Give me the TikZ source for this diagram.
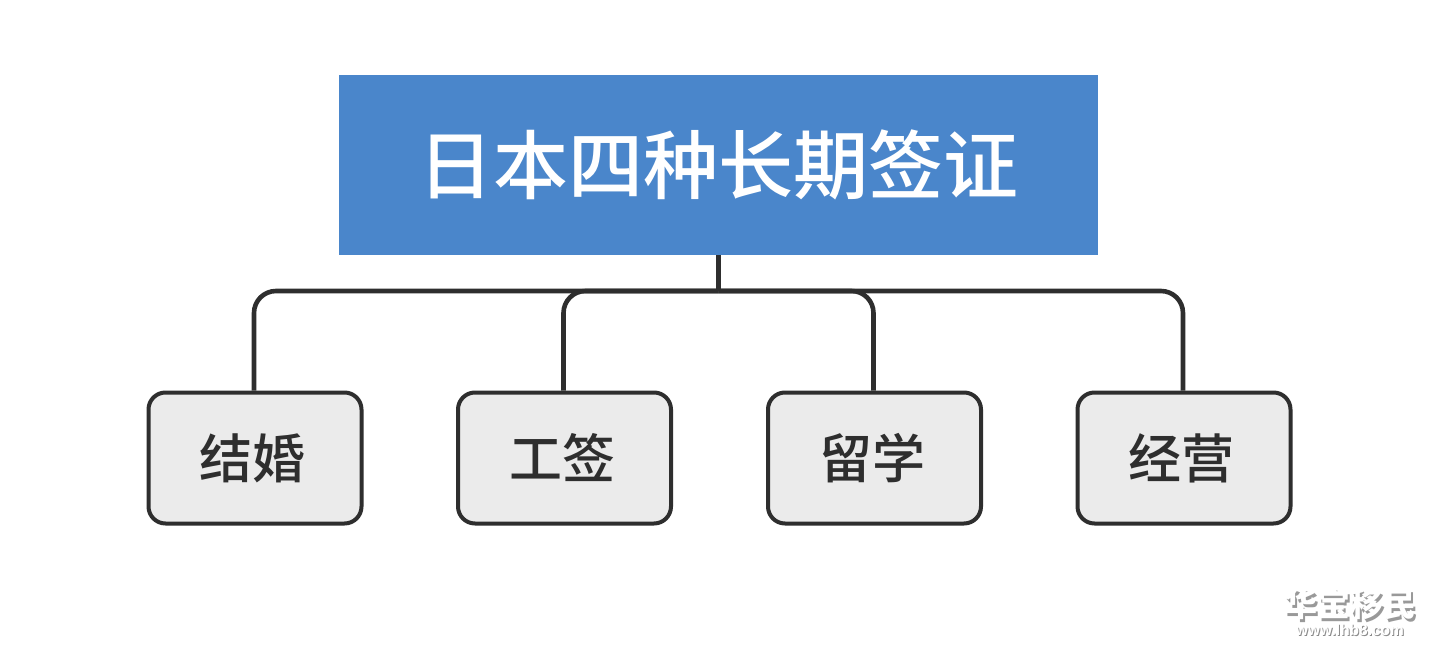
\documentclass[tikz,border=0pt]{standalone}
\usepackage{fontspec}
\newfontfamily\cjk{Noto Sans CJK SC Medium}
\newfontfamily\cjkb{Noto Sans CJK SC Black}
\setmainfont{Liberation Sans}
\definecolor{titleblue}{HTML}{4A86CB}
\definecolor{boxgray}{HTML}{EBEBEB}
\definecolor{inkdark}{HTML}{2E2E2E}
\newcommand{\leaftext}[1]{\hspace*{-5pt}#1}
\tikzset{
  x=1pt,y=-1pt,
  titlebox/.style={fill=titleblue,draw=none,minimum width=759pt,minimum height=180pt,inner sep=0pt,text=white,font=\cjk\fontsize{75}{75}\selectfont},
  leafbox/.style={fill=boxgray,draw=inkdark,line width=4pt,rounded corners=17pt,minimum width=213pt,minimum height=131pt,inner sep=0pt,text=inkdark,font=\cjk\fontsize{53}{53}\selectfont},
  link/.style={draw=inkdark,line width=4.6pt,rounded corners=22pt},
  wmark/.style={inner sep=0pt,text=white,font=\cjkb\fontsize{33}{33}\selectfont},
  wshadow/.style={inner sep=0pt,text=black!40,font=\cjkb\fontsize{33}{33}\selectfont},
  wurl/.style={inner sep=0pt,text=white,font=\bfseries\fontsize{15.5}{15.5}\selectfont},
  wurlshadow/.style={inner sep=0pt,text=black!45,font=\bfseries\fontsize{15.5}{15.5}\selectfont},
}
\begin{document}
\begin{tikzpicture}
\useasboundingbox (0,0) rectangle (1436,654);
\fill[white] (0,0) rectangle (1436,654);
\coordinate (bus) at (718.5,291);
\node[leafbox] (a) at (255,458) {\leaftext{结婚}};
\node[leafbox] (b) at (564.5,458) {\leaftext{工签}};
\node[leafbox] (c) at (874.5,458) {\leaftext{留学}};
\node[leafbox] (d) at (1184,458) {\leaftext{经营}};
\node[titlebox] (t) at (718.5,165) {日本四种长期签证};
\draw[link] (t.south) -- (bus);
\draw[link] (bus) -| ([xshift=-1pt]a.north);
\draw[link] (bus) -| ([xshift=-1pt]b.north);
\draw[link] (bus) -| ([xshift=-1pt]c.north);
\draw[link] (bus) -| ([xshift=-1pt]d.north);
\node[wshadow] (ws) at (1352.5,606.5) {华宝移民};
\node[wmark] (w) at (1350,604) {华宝移民};
\node[wurlshadow] (us) at (1351,631) {www.lhb8.com};
\node[wurl] (u) at (1350,630) {www.lhb8.com};
\end{tikzpicture}
\end{document}
